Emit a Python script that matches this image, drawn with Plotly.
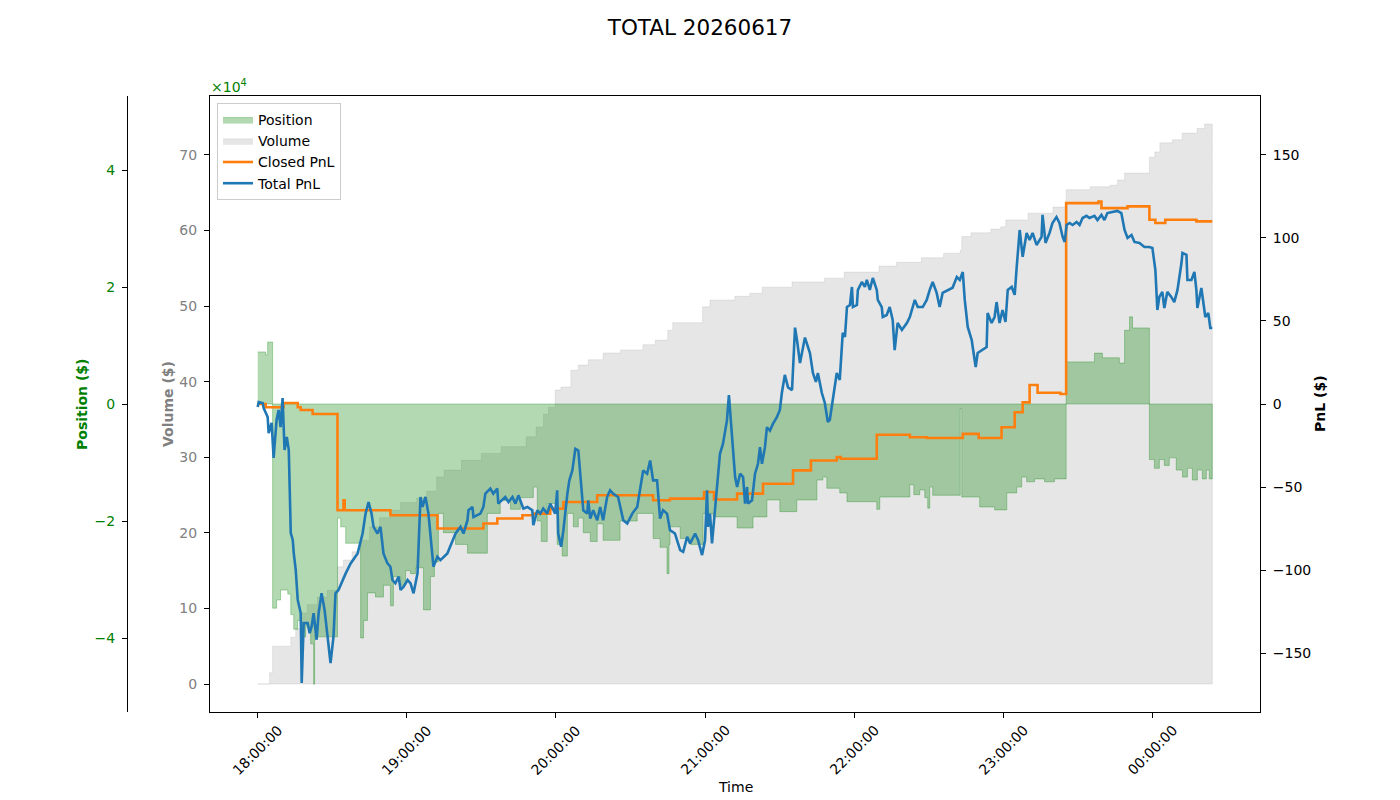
import pandas as pd
import plotly.graph_objects as go

# ---------------- data (minutes after 18:00 on 2026-06-17) ----------------
base = pd.Timestamp("2026-06-17 18:00:00")

pos_min = [0, 3.2, 4.0, 6.0, 7.6, 9.2, 12.1, 13.3, 14.5, 16.1, 17.3, 19.3, 21.3, 22.5, 22.9, 24.1,
           32.1, 33.4, 35.4, 41.4, 42.6, 44.2, 47.4, 50.6, 53.4, 54.6, 57.5, 59.5, 61.5, 63.5, 66.7,
           69.5, 71.1, 72.7, 74.7, 79.6, 84.4, 92.4, 97.6, 101.7, 105.7, 110.9, 112.5, 114.1, 116.5,
           120.5, 122.5, 124.6, 127.0, 129.0, 131.0, 133.8, 136.6, 139.0, 145.8, 152.7, 159.1, 161.9,
           164.7, 165.5, 165.9, 170.0, 174.0, 179.2, 183.2, 190.0, 192.9, 199.3, 204.9, 210.1, 216.9,
           225.0, 227.4, 229.0, 234.2, 237.1, 249.1, 250.3, 262.4, 264.0, 266.4, 268.4, 269.6, 270.4,
           271.6, 282.7, 283.3, 290.5, 296.5, 301.4, 305.4, 307.4, 309.4, 312.6, 316.6, 320.6, 325.3,
           336.7, 339.9, 346.7, 348.8, 350.8, 352.0, 358.8, 360.8, 362.8, 364.8, 366.8, 369.6, 372.1,
           374.1, 376.1, 378.1, 380.1, 381.7, 382.9, 384.1]
position = [8900, 8400, 10600, -34900, -33500, -31800, -32500, -36000, -38500, -37000, -39800, -38000,
            -41000, -47900, -39500, -39800, -19500, -21000, -23800, -40000, -37000, -32300, -33000,
            -31000, -34500, -29500, -31000, -28500, -29000, -28000, -35200, -29500, -27000, -18700,
            -22000, -24000, -25500, -18700, -16500, -18000, -16000, -14200, -20000, -23500, -17000,
            -24000, -26000, -18700, -21000, -19500, -22000, -23500, -20500, -23300, -20000, -18700,
            -23000, -24500, -29000, -24000, -21000, -23000, -24000, -18700, -19300, -19300, -21200,
            -19300, -16400, -18400, -16400, -13000, -12500, -14400, -15200, -16700, -18000, -15900,
            -13800, -15500, -14700, -16000, -17800, -14200, -15600, -800, -15900, -17600, -18100,
            -15200, -14200, -12500, -13300, -12800, -13300, -12800, 7200, 8700, 7900, 7000, 12600,
            14900, 13000, -9500, -11000, -9500, -10500, -9200, -11300, -12500, -11000, -13000, -11300,
            -12800, -11300, -12800, -12800]

vol_min = [0, 4.8, 6.0, 13.3, 15.3, 17.3, 20.0, 24.0, 28.0, 32.1, 34.5, 38.0, 41.4, 45.0, 49.0, 53.4,
           57.5, 64.0, 68.0, 72.0, 75.0, 82.0, 90.0, 98.0, 108.0, 112.0, 115.0, 117.0, 119.7, 122.0,
           126.0, 129.0, 133.0, 139.0, 146.0, 155.0, 160.0, 165.0, 167.0, 179.0, 182.0, 192.0, 198.0,
           203.0, 215.0, 228.0, 236.0, 250.0, 257.0, 267.0, 276.0, 282.7, 283.3, 287.0, 295.0, 299.0,
           301.0, 310.0, 320.0, 325.3, 335.0, 343.0, 346.0, 348.8, 358.8, 361.0, 363.0, 368.0, 372.0,
           378.0, 381.0, 384.1]
volume = [0, 1.5, 5.0, 6.2, 7.3, 9.4, 10.5, 11.5, 12.4, 15.5, 16.4, 17.5, 19.0, 20.8, 22.0, 23.0,
          24.0, 24.6, 25.5, 27.4, 28.3, 29.6, 30.5, 31.4, 32.7, 34.0, 35.7, 36.6, 38.9, 39.3, 41.5,
          42.2, 42.9, 43.8, 44.2, 44.9, 45.5, 46.8, 47.8, 49.9, 50.8, 51.3, 51.7, 52.5, 53.2, 53.7,
          54.5, 55.3, 55.8, 56.4, 57.0, 57.4, 59.2, 59.7, 60.2, 60.5, 61.4, 62.3, 63.1, 65.4, 65.8,
          66.0, 66.7, 67.6, 69.7, 70.4, 71.6, 72.0, 72.9, 73.5, 74.1, 74.1]

closed_min = [0, 3.2, 10.4, 16.1, 17.3, 22.1, 32.1, 34.5, 35.0, 53.4, 72.3, 90.8, 96.4, 106.5, 110.9,
              117.7, 123.0, 136.6, 159.1, 165.9, 179.6, 183.6, 192.9, 203.3, 215.4, 222.6, 233.0,
              234.6, 249.1, 262.4, 269.2, 283.7, 290.1, 299.3, 304.6, 307.8, 310.6, 313.8, 323.0,
              325.3, 338.3, 339.5, 350.0, 358.8, 361.2, 365.2, 377.7, 384.1]
closed_pnl = [0, -2, 0.6, -2, -3.6, -6, -64, -58, -64, -67, -75, -72, -69, -67, -66, -63, -59, -55,
              -58, -57, -53, -57.5, -54, -48, -40, -34, -32, -33, -18.5, -20, -20.5, -18, -20.5, -14,
              -5, 1, 11.4, 6.8, 6, 121, 122, 118, 119, 111, 109, 111, 110, 110]

total_min = [0, 0.4, 2.0, 2.4, 4.0, 4.4, 5.6, 6.4, 6.8, 7.6, 8.4, 9.2, 10.0, 10.8, 11.7, 12.5, 13.3,
             14.1, 14.5, 15.3, 16.1, 17.3, 17.7, 18.5, 20.1, 20.9, 21.7, 22.5, 23.7, 24.5, 25.7, 26.9,
             28.1, 29.3, 30.5, 31.3, 32.5, 34.2, 35.4, 37.4, 40.2, 42.2, 43.4, 44.6, 45.8, 46.6, 48.2,
             49.4, 50.6, 52.2, 53.4, 54.2, 55.4, 56.7, 57.5, 58.7, 60.3, 61.5, 62.7, 64.3, 65.5, 66.3,
             67.5, 68.7, 69.9, 70.7, 72.3, 73.5, 76.3, 78.3, 79.6, 81.6, 82.8, 84.4, 84.8, 86.4, 86.8,
             89.6, 90.8, 91.6, 93.6, 94.8, 96.4, 96.8, 98.4, 99.6, 100.9, 102.5, 103.7, 104.9, 106.9,
             108.5, 110.5, 110.9, 112.5, 113.7, 114.9, 116.5, 117.7, 119.7, 120.5, 120.9, 122.1, 123.0,
             124.6, 125.4, 126.6, 127.8, 129.0, 129.8, 131.0, 132.6, 133.0, 133.8, 135.0, 136.6, 137.8,
             139.0, 140.6, 141.8, 143.0, 145.0, 147.1, 148.7, 150.7, 152.7, 153.9, 155.1, 156.7, 157.9,
             159.1, 160.7, 161.9, 163.1, 164.7, 165.9, 167.9, 170.0, 171.2, 172.8, 174.0, 176.0, 177.2,
             178.8, 180.0, 180.8, 181.2, 182.0, 182.8, 183.6, 184.8, 186.0, 187.2, 188.8, 189.6, 190.9,
             192.1, 192.9, 194.1, 195.3, 196.1, 196.9, 197.3, 198.9, 200.1, 201.3, 202.1, 202.9, 204.1,
             204.9, 206.1, 207.3, 208.9, 210.1, 210.9, 212.1, 213.4, 215.0, 216.2, 217.0, 218.2, 220.2,
             221.4, 222.2, 223.4, 224.6, 225.4, 227.0, 228.2, 229.4, 230.2, 231.4, 233.0, 234.2, 235.0,
             235.4, 236.3, 237.1, 238.3, 239.1, 239.5, 241.1, 241.5, 243.1, 244.3, 245.1, 246.3, 247.5,
             249.1, 249.5, 251.1, 251.5, 253.1, 254.3, 255.5, 256.3, 257.5, 259.2, 261.2, 262.4, 264.4,
             265.6, 267.6, 269.2, 270.4, 271.6, 273.2, 274.4, 275.6, 277.6, 279.6, 281.3, 282.5, 283.7,
             284.5, 285.7, 287.3, 287.7, 288.9, 289.7, 291.7, 293.3, 293.7, 295.3, 296.5, 297.3, 298.5,
             299.7, 300.9, 301.8, 303.4, 304.6, 305.4, 306.6, 307.8, 309.4, 310.6, 311.8, 313.4, 315.4,
             315.8, 317.0, 318.6, 319.8, 321.4, 322.6, 323.9, 324.7, 325.5, 326.7, 327.9, 329.5, 330.7,
             331.9, 333.5, 334.7, 336.7, 337.9, 339.5, 340.7, 341.9, 343.9, 345.9, 347.5, 348.8, 350.0,
             351.6, 352.8, 354.8, 356.8, 358.8, 360.0, 361.2, 362.0, 362.8, 364.0, 364.8, 366.0, 367.6,
             368.8, 370.1, 371.7, 372.1, 373.7, 374.1, 375.7, 376.9, 377.7, 378.1, 379.7, 380.5, 381.3,
             382.5, 383.3, 384.1]
total_pnl = [-1.8, 1.2, 0.6, -2.4, -7.8, -17.5, -11.4, -32.5, -24.7, -9.6, -3.6, -13.9, 3.6, -27.7,
             -19.9, -27.7, -77.7, -81.9, -89.8, -100, -118, -125.9, -168, -132, -132, -138, -134, -126,
             -142, -126, -114, -124, -140, -156, -140, -114, -112, -106, -102, -96, -90, -78, -66, -59,
             -66, -74, -78, -74, -90, -96, -98, -106, -108, -104, -112, -110, -106, -108, -114, -102,
             -56, -62, -56, -66, -84, -98, -92, -94, -90, -82, -78, -74, -78, -70, -64, -62, -68, -66,
             -62, -54, -51, -54, -51, -60, -58, -56, -59, -56, -60, -55, -63, -62, -64, -73, -64, -66,
             -63, -66, -60, -66, -52, -78, -86, -76, -54, -46, -40, -27, -28, -42, -64, -66, -58, -69,
             -64, -70, -62, -70, -56, -52, -54, -56, -70, -72, -66, -62, -50, -40, -42, -34, -46, -46,
             -69, -64, -66, -76, -78, -88, -89, -80, -84, -78, -82, -91, -82, -52, -74, -66, -84, -70,
             -50, -30, -24, -10, 5.4, -20, -44, -50, -42, -44, -60, -50, -60, -58, -42, -36, -26, -36,
             -26, -14, -16, -12, -8, -3.6, 6.6, 17.5, 10, 8.4, 46, 38.5, 24.7, 40, 34, 30.7, 18.7,
             13.3, 18.7, 6.6, 0.6, -10.8, -9.6, 2.4, 18.7, 14.5, 30.7, 42.8, 40.4, 58.4, 59.6, 70.5,
             58.4, 59.6, 68.7, 73.5, 70.5, 74.7, 68.7, 75.9, 68.7, 62.7, 58.4, 52.4, 53.6, 58.4, 50.6,
             32.5, 48.8, 44.6, 48.8, 52.4, 62.7, 58.4, 58.4, 62.7, 68.7, 73.5, 66.9, 58.4, 66.9, 68.7,
             70, 76.5, 74.7, 79.5, 62.7, 46.4, 38.5, 34.3, 22.3, 30.7, 32.5, 34.3, 54.8, 48.8, 52.4,
             61.4, 48.8, 56.6, 49.4, 68.7, 70.5, 65.7, 82.5, 104.8, 88.6, 103, 98.8, 103, 95.8, 100.6,
             113.9, 97, 103, 109, 112.6, 109, 100.6, 97.6, 107.8, 109, 107.8, 109.6, 107.8, 112, 113.3,
             112, 113.3, 110.8, 113.9, 110.8, 115, 115.7, 116.3, 115, 104.8, 100, 101.8, 97.6, 97, 94.6,
             94.6, 94, 80.7, 56.6, 64.5, 67.5, 57.8, 67.5, 64.5, 61.4, 68.7, 84.9, 91, 89.8, 74.7, 74.7,
             79.5, 68.7, 57.8, 69.9, 60.8, 52.4, 54.8, 45.8, 45.8]

xtick_minutes = [0, 60, 120, 180, 240, 300, 360]
xtick_labels = ["18:00:00", "19:00:00", "20:00:00", "21:00:00", "22:00:00", "23:00:00", "00:00:00"]
vol_ticks = [0, 10, 20, 30, 40, 50, 60, 70]
pos_ticks = [-40000, -20000, 0, 20000, 40000]
pos_tick_labels = ["\u22124", "\u22122", "0", "2", "4"]
pnl_ticks = [-150, -100, -50, 0, 50, 100, 150]
pnl_tick_labels = ["\u2212150", "\u2212100", "\u221250", "0", "50", "100", "150"]


def to_time(minutes):
    return list(base + pd.to_timedelta(minutes, unit="m"))


# closed polygons (step area down to zero), like fill_between
pos_x = to_time(pos_min + [pos_min[-1], pos_min[0]])
pos_y = position + [0, 0]
vol_x = to_time(vol_min + [vol_min[-1], vol_min[0]])
vol_y = volume + [0, 0]

FONT = "DejaVu Sans"
W, H = 1400, 800
L, R, T, B = 210, 1260, 96, 712

fig = go.Figure()
fig.add_trace(go.Scatter(
    x=vol_x, y=vol_y, name="Volume", mode="lines", fill="toself",
    fillcolor="rgba(128,128,128,0.2)", line=dict(color="rgba(128,128,128,0.15)", width=1, shape="hv"),
    yaxis="y", legendrank=2, hoverinfo="skip"))
fig.add_trace(go.Scatter(
    x=pos_x, y=pos_y, name="Position", mode="lines", fill="toself",
    fillcolor="rgba(0,128,0,0.3)", line=dict(color="rgba(0,128,0,0.3)", width=1, shape="hv"),
    yaxis="y2", legendrank=1, hoverinfo="skip"))
fig.add_trace(go.Scatter(
    x=to_time(closed_min), y=closed_pnl, name="Closed PnL", mode="lines",
    line=dict(color="#ff7f0e", width=2.6, shape="hv"), yaxis="y3", legendrank=3))
fig.add_trace(go.Scatter(
    x=to_time(total_min), y=total_pnl, name="Total PnL", mode="lines",
    line=dict(color="#1f77b4", width=2.6), yaxis="y3", legendrank=4))

x_lo = base + pd.to_timedelta(-19.2, unit="m")
x_hi = base + pd.to_timedelta(403.3, unit="m")

common = dict(showgrid=False, zeroline=False, showline=True, linecolor="black", linewidth=1,
              ticks="outside", ticklen=5, tickcolor="black")

fig.update_layout(
    width=W, height=H,
    margin=dict(l=0, r=0, t=0, b=0),
    paper_bgcolor="white", plot_bgcolor="white",
    font=dict(family=FONT, size=14, color="black"),
    title=dict(text="TOTAL 20260617", x=0.5, xanchor="center", y=1 - 27 / H, yanchor="middle",
               font=dict(size=21.5, color="black", family=FONT)),
    xaxis=dict(domain=[L / W, R / W], type="date", range=[x_lo, x_hi],
               tickvals=to_time(xtick_minutes), showticklabels=False, mirror=True, **common),
    yaxis=dict(domain=[1 - B / H, 1 - T / H], range=[-3.705, 77.8], tickvals=vol_ticks,
               tickfont=dict(color="gray", size=14), ticklabelstandoff=4, **common),
    yaxis2=dict(overlaying="y", anchor="free", position=127 / W, side="left",
                range=[-52650, 52650], tickvals=pos_ticks, ticktext=pos_tick_labels,
                tickfont=dict(color="green", size=14), ticklabelstandoff=4, **common),
    yaxis3=dict(overlaying="y", anchor="x", side="right", range=[-185.5, 185.5],
                tickvals=pnl_ticks, ticktext=pnl_tick_labels,
                tickfont=dict(color="black", size=14), ticklabelstandoff=4, **common),
    legend=dict(x=217 / W, y=1 - 103 / H, xanchor="left", yanchor="top",
                bgcolor="rgba(255,255,255,0.8)", bordercolor="#cccccc", borderwidth=1,
                font=dict(size=14, color="black", family=FONT), tracegroupgap=0),
    showlegend=True,
)

ann = []
for m, lab in zip(xtick_minutes, xtick_labels):
    ann.append(dict(x=to_time([m])[0], y=1 - 750 / H, xref="x", yref="paper", text=lab,
                    showarrow=False, textangle=-45, xanchor="center", yanchor="middle",
                    font=dict(size=14, color="black", family=FONT)))
ann += [
    dict(x=735 / W, y=1 - 787 / H, xref="paper", yref="paper", text="Time", showarrow=False,
         xanchor="center", yanchor="middle", font=dict(size=14, color="black", family=FONT)),
    dict(x=82 / W, y=1 - 404 / H, xref="paper", yref="paper", text="<b>Position ($)</b>",
         showarrow=False, textangle=-90, xanchor="center", yanchor="middle",
         font=dict(size=14, color="green", family=FONT)),
    dict(x=168 / W, y=1 - 404 / H, xref="paper", yref="paper", text="<b>Volume ($)</b>",
         showarrow=False, textangle=-90, xanchor="center", yanchor="middle",
         font=dict(size=14, color="gray", family=FONT)),
    dict(x=1320 / W, y=1 - 404 / H, xref="paper", yref="paper", text="<b>PnL ($)</b>",
         showarrow=False, textangle=-90, xanchor="center", yanchor="middle",
         font=dict(size=14, color="black", family=FONT)),
    dict(x=209 / W, y=1 - 86 / H, xref="paper", yref="paper", text="\u00d710<sup>4</sup>",
         showarrow=False, xanchor="left", yanchor="middle",
         font=dict(size=14, color="green", family=FONT)),
]
fig.update_layout(annotations=ann)

fig.write_html("out.html")
